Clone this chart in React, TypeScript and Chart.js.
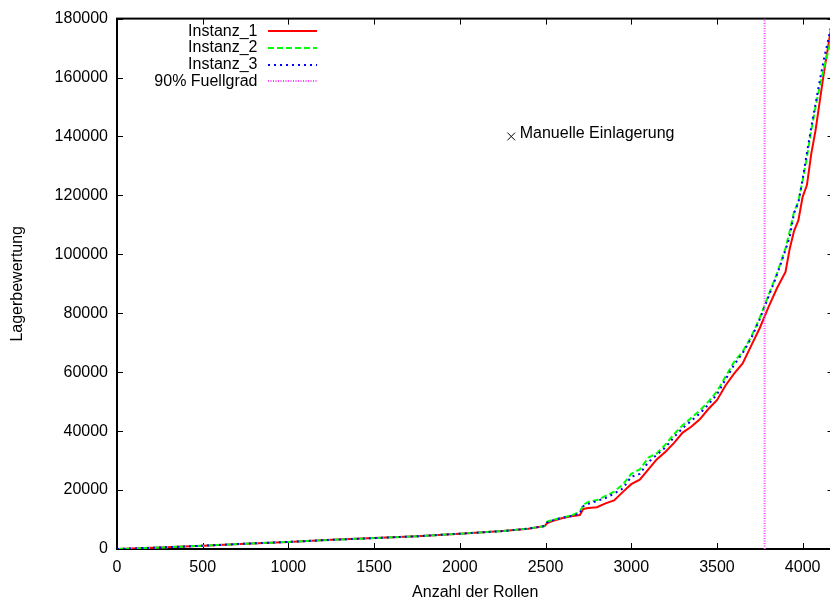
import React, { useEffect, useRef } from "react";
import { Chart, registerables } from "chart.js";

Chart.register(...registerables);

// ---------- data ----------
const rollen = [0, 250, 500, 750, 1000, 1250, 1500, 1750, 2000, 2250, 2400, 2495, 2510, 2550, 2600, 2650, 2700, 2720, 2750, 2800, 2850, 2900, 2950, 3000, 3050, 3100, 3150, 3200, 3250, 3300, 3350, 3400, 3450, 3500, 3550, 3600, 3650, 3700, 3750, 3800, 3850, 3900, 3925, 3950, 3975, 4000, 4025, 4050, 4075, 4100, 4125, 4150, 4175, 4200];

const instanz1 = [0, 500, 1100, 1800, 2400, 3100, 3700, 4300, 5200, 6100, 6900, 7800, 8800, 9700, 10500, 11100, 11500, 13600, 13900, 14200, 15500, 16500, 19300, 22000, 23500, 27000, 30500, 33000, 36000, 39500, 41500, 44000, 47500, 50500, 55500, 59500, 63000, 69000, 75000, 82000, 88500, 94000, 102000, 108000, 111500, 119500, 123500, 134000, 142000, 152000, 162000, 171000, 180000, 188000];

const instanz2 = [0, 500, 1100, 1800, 2400, 3100, 3700, 4300, 5200, 6100, 6900, 7800, 9300, 10000, 10700, 11400, 12500, 15000, 16000, 16600, 18000, 19500, 21800, 25500, 27000, 31000, 32500, 35500, 39000, 42000, 44500, 47000, 50000, 53500, 58500, 63500, 67000, 72000, 78500, 86000, 93500, 102000, 108000, 114500, 118000, 125000, 133000, 142000, 150000, 157000, 163500, 169000, 176000, 183000];

const instanz3 = [0, 500, 1100, 1800, 2400, 3100, 3700, 4300, 5200, 6100, 6900, 7800, 9000, 9900, 10600, 11200, 12000, 14500, 15300, 16300, 17300, 18800, 20500, 24500, 25500, 29500, 32000, 34500, 38000, 41000, 43500, 46000, 49000, 52500, 57500, 62500, 66500, 71500, 78000, 85500, 93000, 101500, 106000, 114000, 117500, 125500, 134500, 143000, 151000, 159000, 166500, 173000, 180000, 187000];

const fuellgradX = 3778;
const markerX = 2300;
const markerY = 140000;
const markerText = "Manuelle Einlagerung";

const seriesLabels = ["Instanz_1", "Instanz_2", "Instanz_3", "90% Fuellgrad"];
const xTicks = [0, 500, 1000, 1500, 2000, 2500, 3000, 3500, 4000];
const yTicks = [0, 20000, 40000, 60000, 80000, 100000, 120000, 140000, 160000, 180000];
const xMin = 0;
const xMax = 4180;
const yMin = 0;
const yMax = 180000;
const xTitle = "Anzahl der Rollen";
const yTitle = "Lagerbewertung";

const FONT = "'Liberation Sans', Arial, Helvetica, sans-serif";

const framePlugin = {
  id: "gpFrame",
  beforeDatasetsDraw(chart: any) {
    const { ctx, chartArea: a, scales } = chart;
    ctx.save();
    ctx.strokeStyle = "#000";
    ctx.lineWidth = 1;
    ctx.setLineDash([]);
    ctx.beginPath();
    for (const v of xTicks) {
      const px = Math.round(scales.x.getPixelForValue(v)) + 0.5;
      ctx.moveTo(px, a.bottom);
      ctx.lineTo(px, a.bottom - 6);
      ctx.moveTo(px, a.top);
      ctx.lineTo(px, a.top + 6);
    }
    for (const v of yTicks) {
      const py = Math.round(scales.y.getPixelForValue(v)) + 0.5;
      ctx.moveTo(a.left, py);
      ctx.lineTo(a.left + 6, py);
      ctx.moveTo(a.right, py);
      ctx.lineTo(a.right - 6, py);
    }
    ctx.stroke();
    ctx.lineWidth = 2;
    ctx.strokeRect(a.left, a.top, a.right - a.left, a.bottom - a.top);
    ctx.restore();
  },
};

const keyPlugin = {
  id: "gpKey",
  afterDraw(chart: any) {
    const { ctx, scales } = chart;
    ctx.save();
    ctx.font = "16px " + FONT;
    ctx.fillStyle = "#000";
    ctx.textBaseline = "middle";
    // key
    let row = 0;
    chart.data.datasets.forEach((ds: any) => {
      if (ds.inKey === false) return;
      const y = 31.3 + row * 16.6;
      ctx.textAlign = "right";
      ctx.fillText(ds.label, 257.5, y);
      ctx.strokeStyle = ds.borderColor;
      ctx.lineWidth = ds.borderWidth;
      ctx.setLineDash(ds.borderDash || []);
      ctx.beginPath();
      const ly = Math.round(y);
      ctx.moveTo(268, ly);
      ctx.lineTo(317, ly);
      ctx.stroke();
      row++;
    });
    // point label
    ctx.setLineDash([]);
    ctx.textAlign = "left";
    const mx = scales.x.getPixelForValue(markerX);
    const my = scales.y.getPixelForValue(markerY);
    ctx.fillText(markerText, mx + 8.5, my - 3);
    ctx.restore();
  },
};

export default function App() {
  const ref = useRef<HTMLCanvasElement | null>(null);

  useEffect(() => {
    if (!ref.current) return;
    Chart.defaults.font.family = FONT;
    Chart.defaults.font.size = 16;
    Chart.defaults.color = "#000";

    const pts = (ys: number[]) => rollen.map((x, i) => ({ x, y: ys[i] }));

    const chart = new Chart(ref.current, {
      type: "line",
      data: {
        datasets: [
          {
            label: seriesLabels[0],
            data: pts(instanz1),
            borderColor: "#ff0000",
            borderWidth: 2,
            pointRadius: 0,
            tension: 0,
            fill: false,
            order: 4,
          },
          {
            label: seriesLabels[1],
            data: pts(instanz2),
            borderColor: "#00ff00",
            borderWidth: 2,
            borderDash: [6, 3],
            pointRadius: 0,
            tension: 0,
            fill: false,
            order: 3,
          },
          {
            label: seriesLabels[2],
            data: pts(instanz3),
            borderColor: "#0000ff",
            borderWidth: 2,
            borderDash: [2, 4],
            pointRadius: 0,
            tension: 0,
            fill: false,
            order: 2,
          },
          {
            label: seriesLabels[3],
            data: [
              { x: fuellgradX, y: yMin },
              { x: fuellgradX, y: yMax },
            ],
            borderColor: "#ff40ff",
            borderWidth: 2,
            borderDash: [1, 1.5],
            pointRadius: 0,
            tension: 0,
            fill: false,
            order: 1,
          },
          {
            label: markerText,
            data: [{ x: markerX, y: markerY }],
            showLine: false,
            pointStyle: "crossRot",
            pointRadius: 5.5,
            pointBorderColor: "#000",
            pointBorderWidth: 1,
            borderColor: "#000",
            order: 0,
            inKey: false,
          } as any,
        ],
      },
      options: {
        animation: false,
        responsive: false,
        devicePixelRatio: 1,
        layout: { padding: { top: 15, right: 6, left: 0, bottom: 0 } },
        plugins: {
          legend: { display: false },
          tooltip: { enabled: false },
        },
        scales: {
          x: {
            type: "linear",
            min: xMin,
            max: xMax,
            grid: { display: false, drawTicks: false },
            border: { display: false },
            ticks: {
              includeBounds: false,
              padding: 9,
              maxRotation: 0,
              autoSkip: false,
              callback: (v: any) => String(v),
            },
            afterBuildTicks: (s: any) => {
              s.ticks = xTicks.map((v) => ({ value: v }));
            },
            afterFit: (s: any) => {
              s.height = 52;
            },
            title: {
              display: true,
              text: xTitle,
              padding: { top: 0, bottom: -1 },
            },
          },
          y: {
            type: "linear",
            min: yMin,
            max: yMax,
            grid: { display: false, drawTicks: false },
            border: { display: false },
            ticks: {
              includeBounds: false,
              padding: 9,
              autoSkip: false,
              callback: (v: any) => String(v),
            },
            afterBuildTicks: (s: any) => {
              s.ticks = yTicks.map((v) => ({ value: v }));
            },
            afterFit: (s: any) => {
              s.width = 117;
            },
            title: {
              display: true,
              text: yTitle,
              padding: { top: 8, bottom: 0 },
            },
          },
        },
      },
      plugins: [framePlugin, keyPlugin],
    });
    return () => chart.destroy();
  }, []);

  return (
    <div
      style={{
        position: "fixed",
        left: 0,
        top: 0,
        width: 830,
        height: 601,
        overflow: "hidden",
        background: "#fff",
      }}
    >
      <canvas ref={ref} width={840} height={601} style={{ display: "block", width: 840, height: 601 }} />
    </div>
  );
}
